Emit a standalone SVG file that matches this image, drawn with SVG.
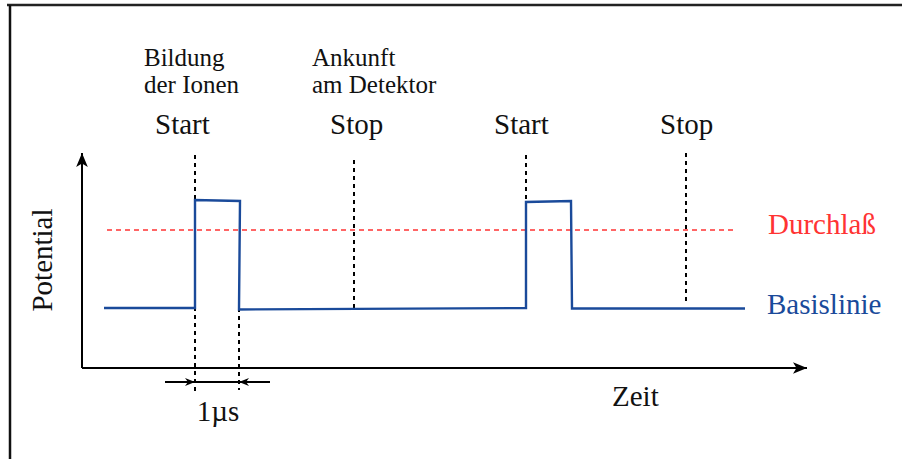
<svg xmlns="http://www.w3.org/2000/svg" width="902" height="459" viewBox="0 0 902 459">
<style>
text{font-family:"Liberation Serif","Times New Roman",serif;fill:#111}
.sm{font-size:25px}
.md{font-size:29px}
.ax{stroke:#000;stroke-width:2;fill:none}
.dash{stroke:#000;stroke-width:2;stroke-dasharray:4,4;fill:none}
.sig{stroke:#1a4a9a;stroke-width:2.4;fill:none;stroke-linejoin:miter}
.thr{stroke:#ff3333;stroke-width:1.6;stroke-dasharray:5,4;fill:none}
</style>
<defs>
<marker id="ah" viewBox="0 0 10 10" refX="10" refY="5" markerWidth="10" markerHeight="10" markerUnits="userSpaceOnUse" orient="auto">
<path d="M0,1 L10,5 L0,9 L3,5 Z" fill="#000"/>
</marker>
<marker id="ah2" viewBox="0 0 12 10" refX="12" refY="5" markerWidth="14" markerHeight="12" markerUnits="userSpaceOnUse" orient="auto">
<path d="M0,0 L12,5 L0,10 L3,5 Z" fill="#000"/>
</marker>
</defs>
<rect width="902" height="459" fill="#fff"/>
<g id="frame">
<path d="M7,5 H902" stroke="#222" stroke-width="2.5" fill="none"/>
<path d="M10,5 V459" stroke="#111" stroke-width="2.5" fill="none"/>
</g>
<g id="axes">
<path class="ax" d="M82,368 V153" marker-end="url(#ah2)"/>
<path class="ax" d="M82,368 H807" marker-end="url(#ah2)"/>
<text class="md" transform="translate(52,260) rotate(-90)" text-anchor="middle">Potential</text>
<text class="md" x="612" y="406">Zeit</text>
</g>
<g id="connectors">
<path class="dash" d="M195,155 V392"/>
<path class="dash" d="M239,300 V390"/>
<path class="dash" d="M354,160 V310"/>
<path class="dash" d="M526,155 V202"/>
<path class="dash" d="M686,153 V305"/>
</g>
<g id="threshold">
<path class="thr" d="M107,230 H736"/>
<text class="md" x="768" y="234" style="fill:#ff3333">Durchlaß</text>
</g>
<g id="signal">
<path class="sig" d="M104,308 H195 V200 L240,201 L239,309.5 L526,308 V202 L571,201 L572,308.5 H745"/>
<text class="md" x="767" y="314" style="fill:#1a4a9a">Basislinie</text>
</g>
<g id="dimension">
<path class="ax" d="M165,382 H195" marker-end="url(#ah)"/>
<path class="ax" d="M195,382 H239"/>
<path class="ax" d="M270,382 H239" marker-end="url(#ah)"/>
<text class="md" x="218" y="421" text-anchor="middle">1µs</text>
</g>
<g id="start1">
<text class="sm" x="144" y="66">Bildung</text>
<text class="sm" x="144" y="93">der Ionen</text>
<text class="md" x="155" y="134">Start</text>
</g>
<g id="stop1">
<text class="sm" x="312" y="66">Ankunft</text>
<text class="sm" x="312" y="93">am Detektor</text>
<text class="md" x="330" y="134">Stop</text>
</g>
<g id="start2">
<text class="md" x="494" y="134">Start</text>
</g>
<g id="stop2">
<text class="md" x="660" y="134">Stop</text>
</g>
</svg>
